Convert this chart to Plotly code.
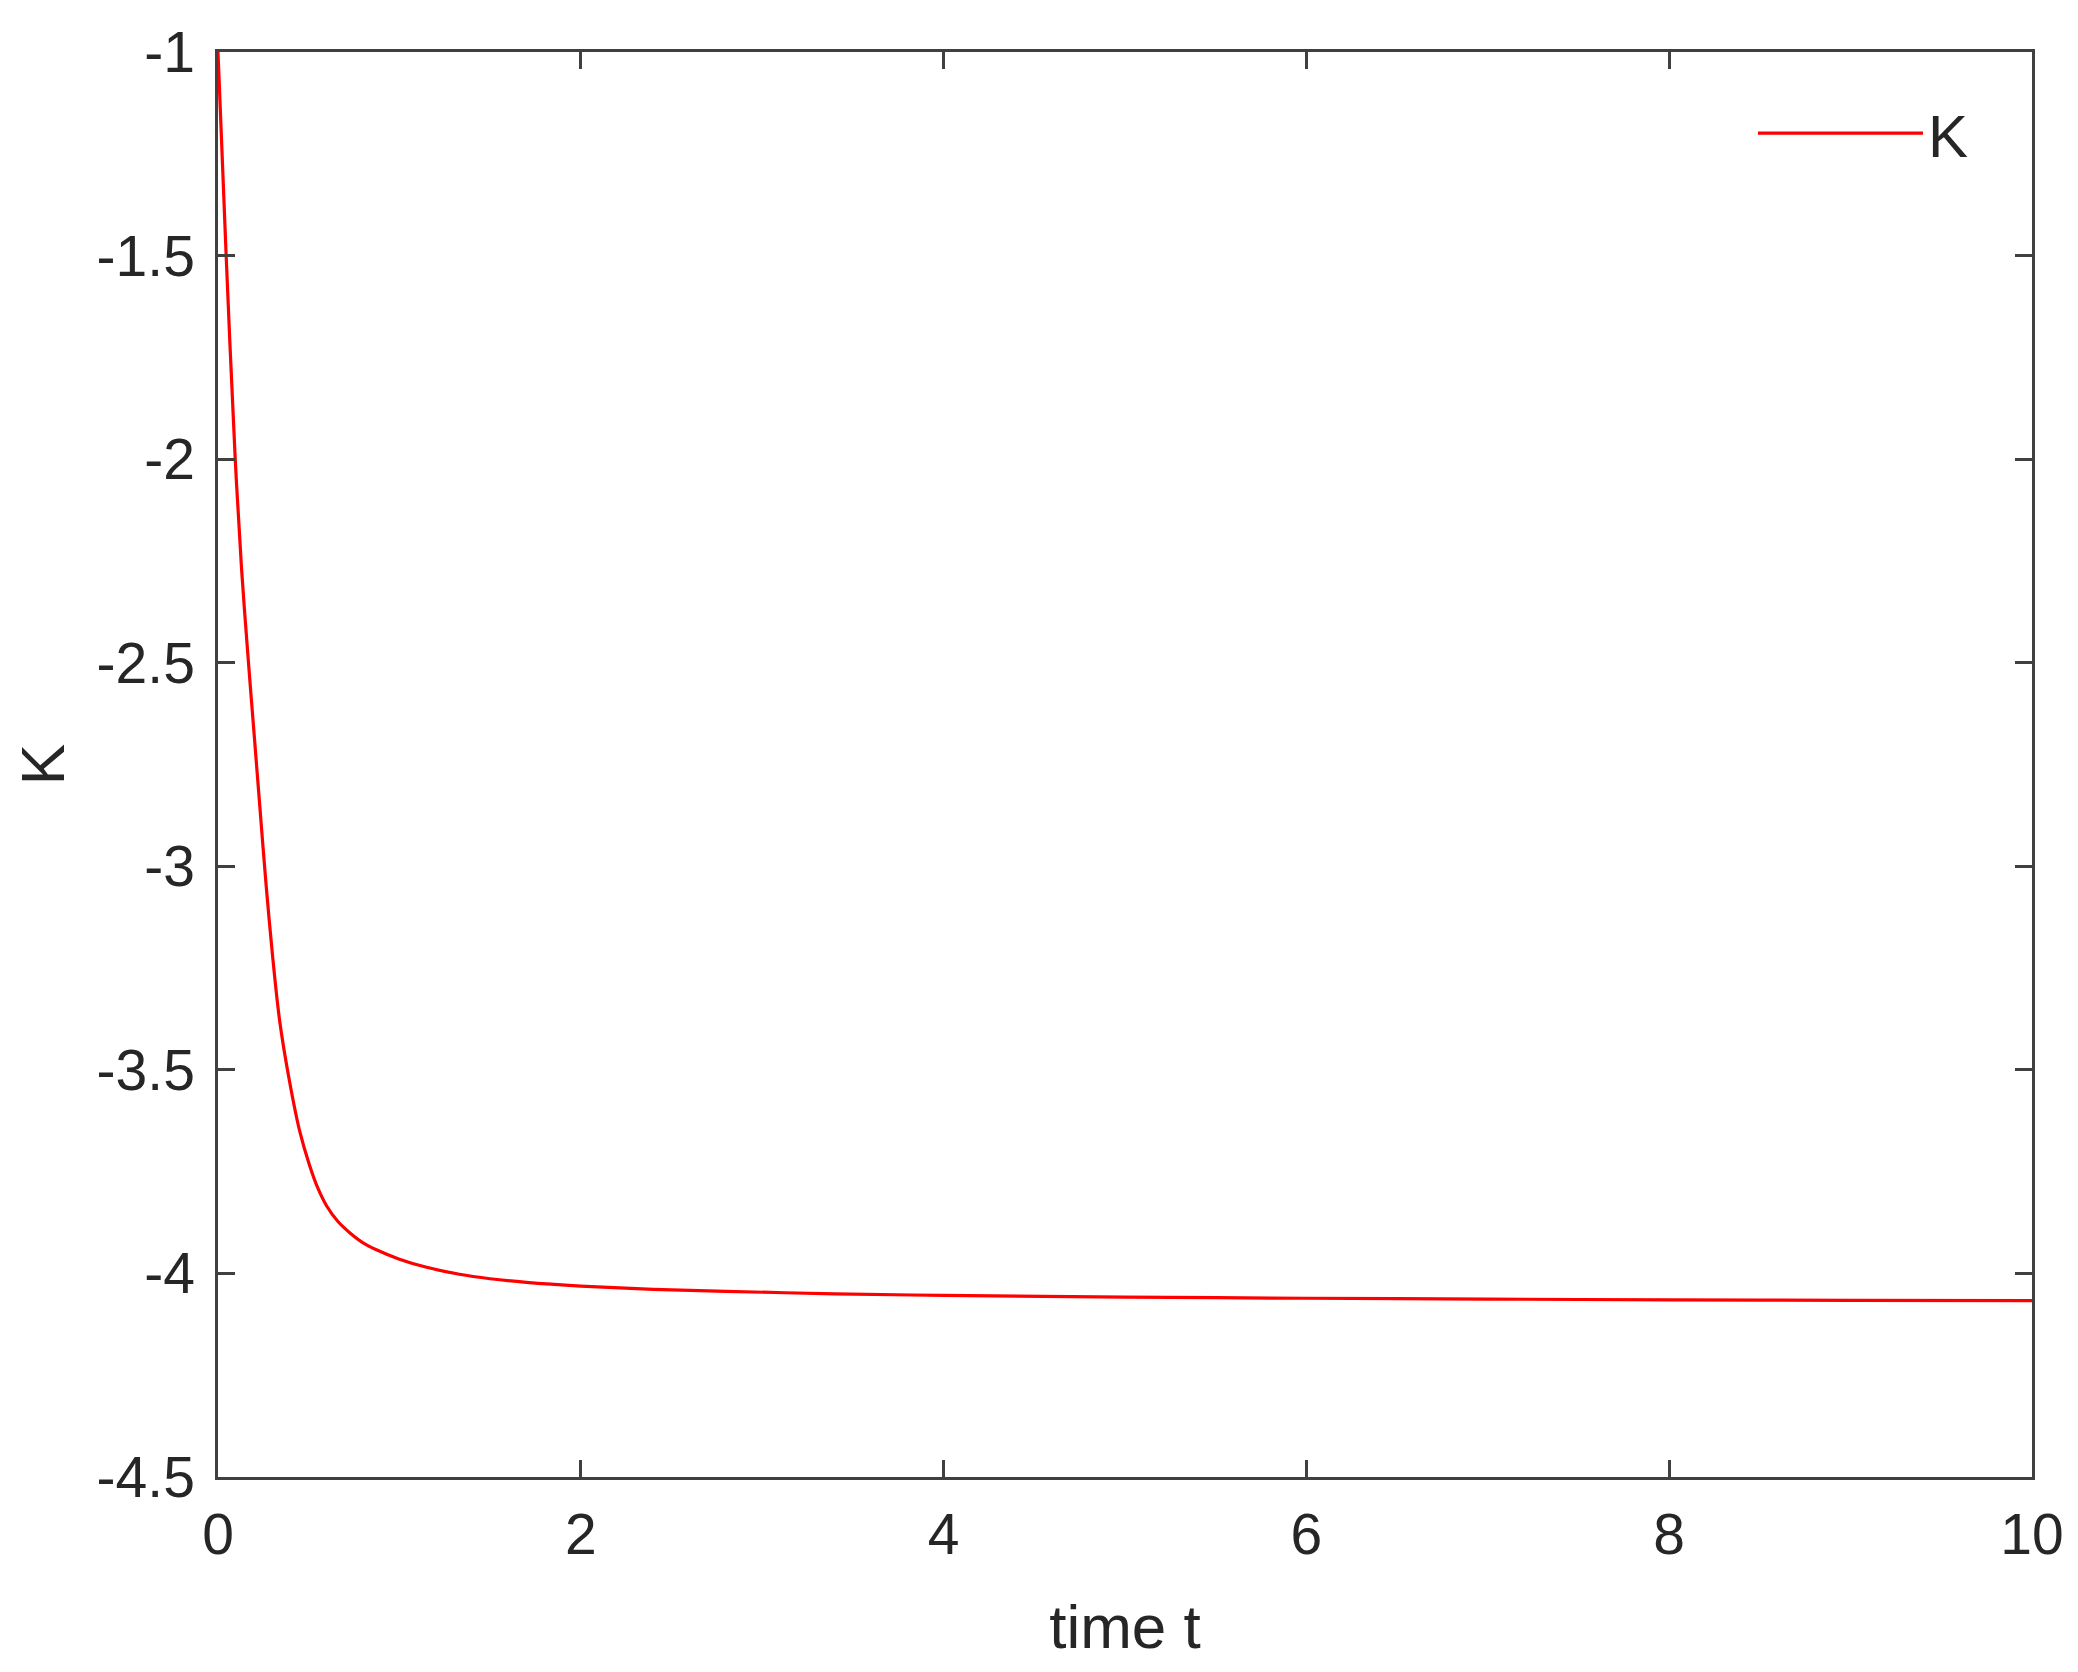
import plotly.graph_objects as go

# Data
t_values = [0, 0.045, 0.095, 0.13, 0.168, 0.20, 0.23, 0.266, 0.303, 0.34, 0.395,
            0.45, 0.505, 0.55, 0.60, 0.66, 0.726, 0.80, 0.873, 1.0, 1.15, 1.33, 1.5,
            1.7, 2.0, 2.4, 2.8, 3.4, 4.0, 5.0, 6.0, 7.0, 8.0, 9.0, 10.0]
K_values = [-1.0, -1.5, -2.0, -2.27, -2.5, -2.68, -2.85, -3.05, -3.23, -3.38, -3.53,
            -3.65, -3.735, -3.79, -3.835, -3.872, -3.90, -3.925, -3.942, -3.965, -3.985, -4.002, -4.013,
            -4.022, -4.031, -4.039, -4.044, -4.050, -4.054, -4.058, -4.061, -4.063, -4.065, -4.066, -4.067]
series_name = "K"
x_ticks = [0, 2, 4, 6, 8, 10]
y_ticks = [-4.5, -4, -3.5, -3, -2.5, -2, -1.5, -1]
y_tick_labels = ["-4.5", "-4", "-3.5", "-3", "-2.5", "-2", "-1.5", "-1"]
x_label = "time t"
y_label = "K"

FONT = "Liberation Sans, Arial, Helvetica, sans-serif"
AXC = "#404040"
TXT = "#262626"

fig = go.Figure()
fig.add_trace(go.Scatter(
    x=t_values, y=K_values, mode="lines", name=series_name,
    line=dict(color="#FF0000", width=3.2, shape="spline", smoothing=0.9),
))

axis_common = dict(
    showline=True, linecolor=AXC, linewidth=2.5, mirror="ticks",
    ticks="inside", ticklen=17, tickwidth=2.5, tickcolor=AXC,
    showgrid=False, zeroline=False,
    tickfont=dict(family=FONT, size=57, color=TXT),
)

fig.update_layout(
    width=2078, height=1672,
    margin=dict(l=210, r=54, t=39, b=203),
    paper_bgcolor="white", plot_bgcolor="white",
    font=dict(family=FONT, color=TXT),
    showlegend=True,
    legend=dict(
        x=0.968, y=0.975, xanchor="right", yanchor="top",
        bgcolor="rgba(0,0,0,0)", borderwidth=0,
        font=dict(family=FONT, size=60, color=TXT),
        itemwidth=165,
    ),
    xaxis=dict(
        range=[0, 10], tickvals=x_ticks, ticktext=[str(v) for v in x_ticks],
        ticklabelstandoff=6,
        title=dict(text=x_label, font=dict(family=FONT, size=62, color=TXT), standoff=40),
        **axis_common,
    ),
    yaxis=dict(
        range=[-4.5, -1], tickvals=y_ticks, ticktext=y_tick_labels,
        ticklabelstandoff=9,
        title=dict(text=y_label, font=dict(family=FONT, size=62, color=TXT), standoff=30),
        **axis_common,
    ),
)

fig.write_html("out.html")
